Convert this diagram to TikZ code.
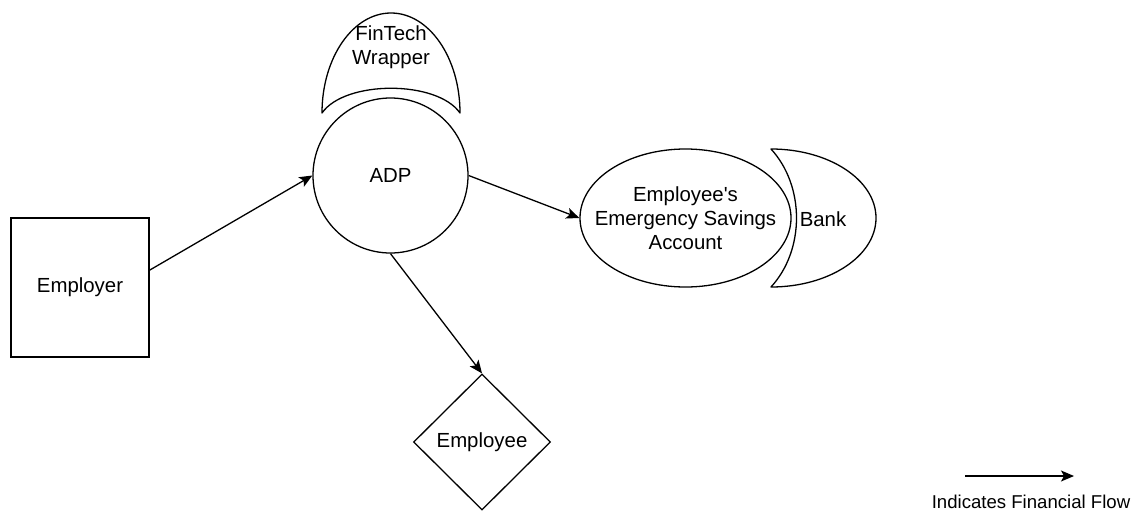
\documentclass[tikz,border=0pt]{standalone}
\usepackage{fontspec}
\setmainfont{Liberation Sans}
\usetikzlibrary{shapes.geometric,arrows.meta}
\begin{document}
\begin{tikzpicture}[x=1pt,y=-1pt,
  every node/.style={font=\fontsize{20.4}{24}\selectfont, align=center, inner sep=0pt},
  every label/.style={font=\fontsize{20.4}{24}\selectfont, align=center, inner sep=0pt},
  shapeline/.style={draw=black, line width=1.3pt},
  flow/.style={draw=black, line width=1.3pt, -{Stealth[length=13pt,width=11pt,inset=3pt]}}]
\useasboundingbox (0,0) rectangle (1135,512);
% nodes
\node[shapeline, rectangle, minimum width=138pt, minimum height=139pt] (employer) at (80,287.5) {Employer};
\node[shapeline, circle, minimum size=155pt] (adp) at (390.5,175.5) {ADP};
\node[shapeline, ellipse, minimum width=211pt, minimum height=138pt,
  label={center:Employee\textquotesingle s\\Emergency Savings\\Account}] (savings) at (685.5,218) {};
\node[shapeline, diamond, minimum width=137pt, minimum height=136pt] (employee) at (482,442) {Employee};
% FinTech wrapper shape
\draw[shapeline, line join=round] (322,113) .. controls (322,57.8) and (352.9,13) .. (391,13)
  .. controls (429.1,13) and (460,57.8) .. (460,113)
  .. controls (437,80) and (345,80) .. cycle;
\node (fintech) at (391,47) {FinTech\\Wrapper};
% Bank shape
\draw[shapeline, line join=round] (771,149) .. controls (829,149) and (876,179.9) .. (876,218)
  .. controls (876,256.1) and (829,287) .. (771,287)
  .. controls (805,250) and (805,186) .. cycle;
\node (bank) at (823,219) {Bank};
% flows
\draw[flow] (employer.14) -- (adp.180);
\draw[flow] (adp.east) -- (savings.west);
\draw[flow] (adp.south) -- (employee.north);
% legend
\coordinate (legA) at (965,476);
\coordinate (legB) at (1074,476);
\draw[flow] (legA) -- (legB);
\node[font=\fontsize{18.6}{22}\selectfont] (legend) at (1031,502) {Indicates Financial Flow};
\end{tikzpicture}
\end{document}
